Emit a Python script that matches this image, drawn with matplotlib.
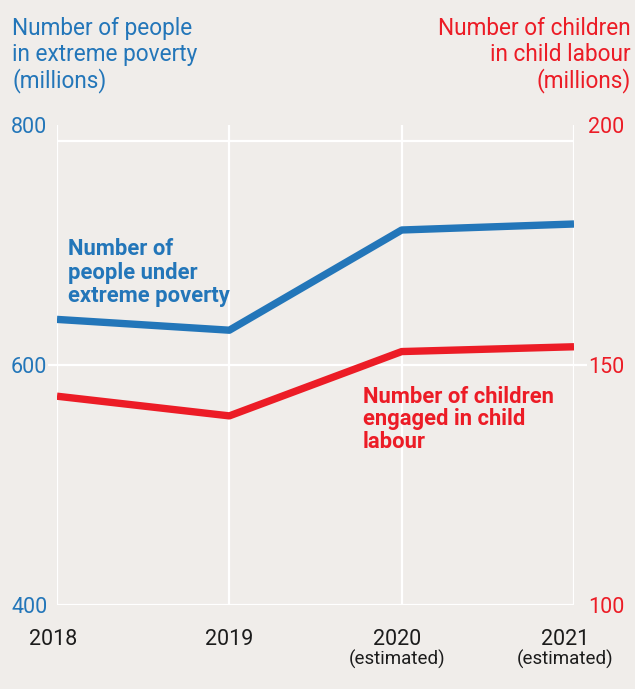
import matplotlib
matplotlib.use('Agg')
import matplotlib.pyplot as plt

# data
years = [2018, 2019, 2020, 2021]
year_labels = ['2018', '2019', '2020', '2021']
year_notes = ['', '', '(estimated)', '(estimated)']
poverty = [638, 629, 712.5, 717.5]        # millions, left axis
child_labour = [143.5, 139.4, 152.8, 153.8]  # millions, right axis
left_ticks = [400, 600, 800]
right_ticks = [100, 150, 200]

BG = '#f0edea'
BLUE = '#2376b9'
RED = '#ec1c26'
INK = '#1c1c1c'
FONT = ['Roboto', 'DejaVu Sans']

plt.rcParams['font.family'] = FONT

W, H = 635, 689
fig = plt.figure(figsize=(W / 100, H / 100), dpi=100, facecolor=BG)

# plot box in pixels: x 57..574, y 125..605
px0, px1, py0, py1 = 57, 574, 125, 605
ax = fig.add_axes([px0 / W, 1 - py1 / H, (px1 - px0) / W, (py1 - py0) / H])
ax.set_facecolor(BG)
ax2 = ax.twinx()

ax.set_xlim(years[0], years[-1])
ax.set_ylim(400, 800)
ax2.set_ylim(100, 200)

for a in (ax, ax2):
    for s in a.spines.values():
        s.set_visible(False)
    a.tick_params(length=0)

# grid
for x in years:
    ax.axvline(x, color='white', lw=1.6, zorder=1)
ax.axhline(400, color='white', lw=1.6, zorder=1)
ax.axhline(786.7, color='white', lw=1.6, zorder=1)
# 600 line runs under both tick labels
ax.plot([-0.018, 1.095], [0.5, 0.5], transform=ax.transAxes, color='white',
        lw=1.6, zorder=1, clip_on=False)

ax.plot(years, poverty, color=BLUE, lw=5.3, solid_capstyle='butt', zorder=3)
ax2.plot(years, child_labour, color=RED, lw=5.3, solid_capstyle='butt', zorder=3)

ax.set_yticks(left_ticks)
ax.set_yticklabels([str(t) for t in left_ticks], color=BLUE, fontsize=15.5)
ax.tick_params(axis='y', pad=7)
ax2.set_yticks(right_ticks)
ax2.set_yticklabels([str(t) for t in right_ticks], color=RED, fontsize=15.5)
ax2.tick_params(axis='y', pad=10)
for lab in ax.get_yticklabels() + ax2.get_yticklabels():
    lab.set_bbox(dict(facecolor=BG, edgecolor='none', pad=0.5))

ax.set_xticks([])


def ay(py):
    return (py1 - py) / (py1 - py0)


# year labels
shift = [-0.008, 0, -0.008, -0.017]
for x, lab, note, dx in zip(years, year_labels, year_notes, shift):
    xa = (x - years[0]) / (years[-1] - years[0]) + dx
    ax.text(xa, ay(645), lab, transform=ax.transAxes, ha='center',
            va='baseline', fontsize=15.5, color=INK)
    if note:
        ax.text(xa, ay(665), note, transform=ax.transAxes, ha='center',
                va='baseline', fontsize=13.5, color=INK)


def lines_at(x, baselines, lines, **kw):
    for b, t in zip(baselines, lines):
        fig.text(x / W, 1 - b / H, t, va='baseline', **kw)


# axis titles
lines_at(12, [35, 61, 87], ['Number of people', 'in extreme poverty', '(millions)'],
         color=BLUE, fontsize=16.3, ha='left')
lines_at(631, [35, 61, 87], ['Number of children', 'in child labour', '(millions)'],
         color=RED, fontsize=16.3, ha='right')

# inline series labels
lines_at(68, [255, 278.5, 302], ['Number of', 'people under', 'extreme poverty'],
         color=BLUE, fontsize=15.8, fontweight='bold', ha='left')
lines_at(363, [403, 425.5, 448], ['Number of children', 'engaged in child', 'labour'],
         color=RED, fontsize=15.8, fontweight='bold', ha='left')

fig.savefig('out.png', dpi=100, facecolor=BG)
